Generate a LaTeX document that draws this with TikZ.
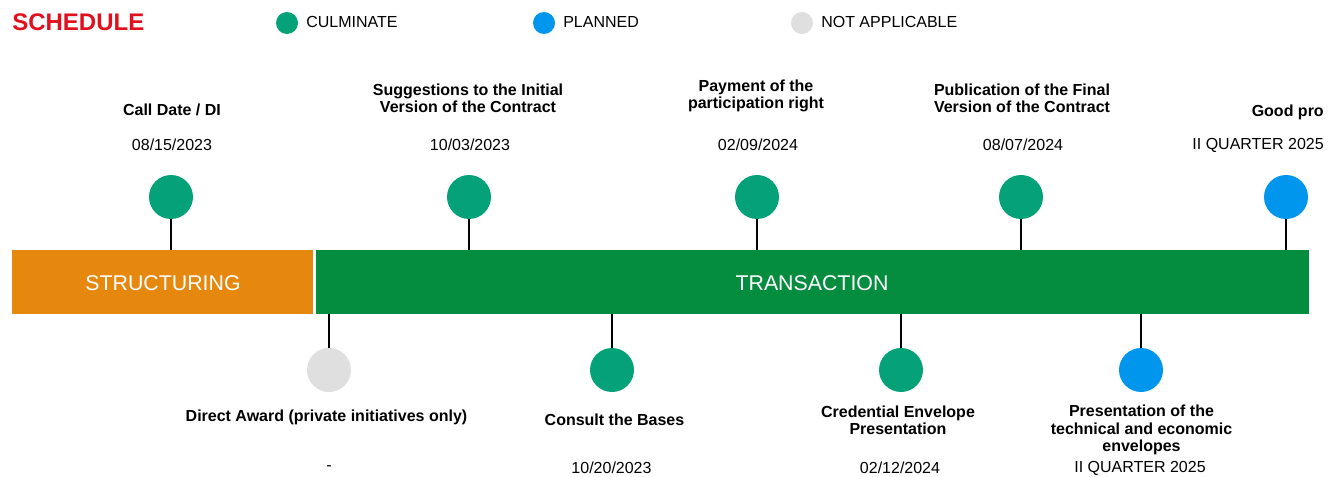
\documentclass[tikz,border=0pt]{standalone}
\usepackage{fontspec}
\setmainfont{Liberation Sans}
\definecolor{culminate}{HTML}{05A27A}
\definecolor{planned}{HTML}{0096EE}
\definecolor{notapplic}{HTML}{E0DFE0}
\definecolor{structcol}{HTML}{E6870E}
\definecolor{transcol}{HTML}{048C3F}
\definecolor{titlered}{HTML}{E1101E}
\tikzset{
    milestone/.style={circle, minimum size=33pt, inner sep=0pt},
    keydot/.style={circle, minimum size=16.5pt, inner sep=0pt},
    mtitle/.style={font=\bfseries\fontsize{12}{13}\selectfont, align=center},
    mdate/.style={font=\fontsize{12}{13}\selectfont},
    stem/.style={line width=1.6pt},
    phase/.style={text=white, font=\fontsize{16}{18}\selectfont},
}
\begin{document}
\begin{tikzpicture}[x=0.75pt, y=-0.75pt]
\useasboundingbox (0,0) rectangle (1333,477);
\node at (12,22)[anchor=west, text=titlered, font=\bfseries\fontsize{18}{20}\selectfont, inner sep=0pt](heading){SCHEDULE};
% legend
\foreach \x/\c/\t/\n in {287/culminate/CULMINATE/a,544/planned/PLANNED/b,802/notapplic/NOT APPLICABLE/c}
{
    \node[keydot, fill=\c] (key\n) at (\x,23) {};
    \node[mdate, anchor=west, inner sep=0pt] (keytext\n) at (\x+19,22) {\t};
}
% phases
\fill[structcol] (12,250) rectangle (313,314);
\fill[transcol] (316,250) rectangle (1309,314);
\node[phase] (structuring) at (163,283) {STRUCTURING};
\node[phase] (transaction) at (812,283) {TRANSACTION};
% milestones above the bar
\foreach \x/\c/\n in {171/culminate/a,469/culminate/b,757/culminate/c,1021/culminate/d,1286/planned/e}
{
    \node[milestone, fill=\c] (up\n) at (\x,197) {};
    \coordinate (upbar\n) at (\x,250);
    \draw[stem] (up\n) -- (upbar\n);
}
\node[mtitle] (uptitlea) at (172,110) {Call Date / DI};
\node[mtitle] (uptitleb) at (468,98) {Suggestions to the Initial\\Version of the Contract};
\node[mtitle] (uptitlec) at (756,96) {Payment of the\\participation right};
\node[mtitle] (uptitled) at (1022,98.5) {Publication of the Final\\Version of the Contract};
\node[mtitle, anchor=east, inner xsep=0pt] (uptitlee) at (1324,112) {Good pro};
\node[mdate] (updatea) at (172,145) {08/15/2023};
\node[mdate] (updateb) at (470,145) {10/03/2023};
\node[mdate] (updatec) at (758,145) {02/09/2024};
\node[mdate] (updated) at (1023,145) {08/07/2024};
\node[mdate, anchor=east, inner xsep=0pt] (updatee) at (1324,145) {II QUARTER 2025};
% milestones below the bar
\foreach \x/\c/\n in {329/notapplic/a,612/culminate/b,901/culminate/c,1141/planned/d}
{
    \node[milestone, fill=\c] (down\n) at (\x,370) {};
    \coordinate (downbar\n) at (\x,314);
    \draw[stem] (downbar\n) -- (down\n);
}
\node[mtitle] (downtitlea) at (326.5,417.5) {Direct Award (private initiatives only)};
\node[mtitle] (downtitleb) at (614.5,419.5) {Consult the Bases};
\node[mtitle] (downtitlec) at (898,420) {Credential Envelope\\Presentation};
\node[mtitle] (downtitled) at (1141.5,430) {Presentation of the\\technical and economic\\envelopes};
\node[mdate] (downdatea) at (329,468) {-};
\node[mdate] (downdateb) at (611.5,468) {10/20/2023};
\node[mdate] (downdatec) at (900,468) {02/12/2024};
\node[mdate] (downdated) at (1140,468) {II QUARTER 2025};

\end{tikzpicture}
\end{document}
